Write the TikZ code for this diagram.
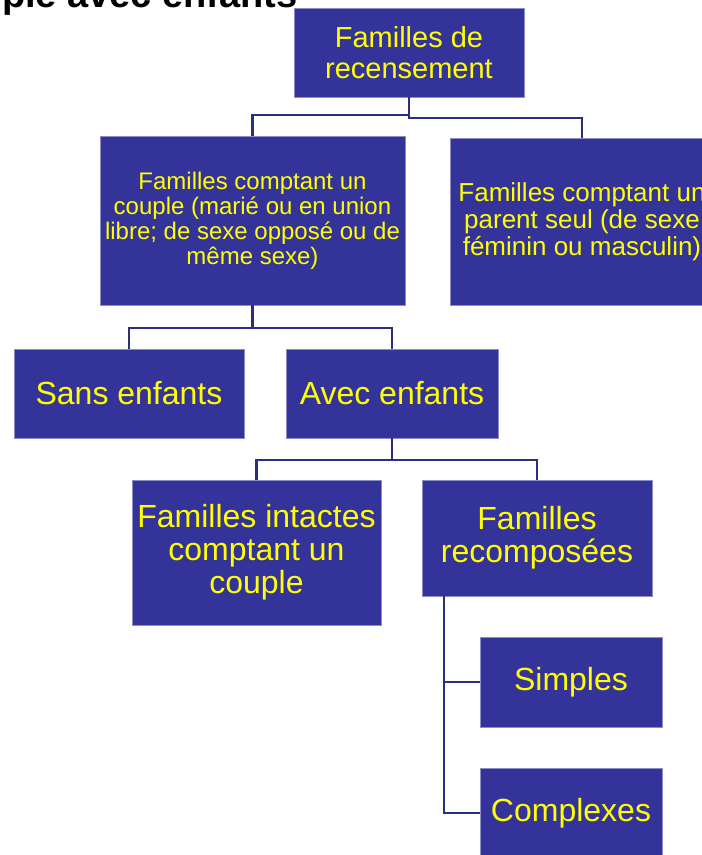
\documentclass[tikz,border=0pt]{standalone}
\usepackage{fontspec}
\setmainfont{Liberation Sans}
\definecolor{boxblue}{RGB}{51,51,153}
\definecolor{edgeblue}{RGB}{140,140,200}
\definecolor{linkblue}{RGB}{46,46,128}
\definecolor{txtyellow}{RGB}{255,255,0}
\begin{document}
\begin{tikzpicture}[x=1pt,y=-1pt,
  box/.style={rectangle, fill=boxblue, draw=edgeblue, line width=0.8pt, text=txtyellow, align=center, inner sep=2pt},
  conn/.style={draw=linkblue, line width=2.6pt},
  fA/.style={font=\fontsize{32}{33}\selectfont},
  fB/.style={font=\fontsize{29}{31}\selectfont},
  fC/.style={font=\fontsize{24}{25}\selectfont},
  fD/.style={font=\fontsize{26}{27}\selectfont}]
\useasboundingbox (0,0) rectangle (702,855);
\fill[white] (0,0) rectangle (702,855);
% title (cut off at the top edge)
\node[anchor=base east, inner sep=0pt, font=\bfseries\fontsize{38}{40}\selectfont, text=black] (title) at (298,7) {ple avec enfants};
% boxes
\node[box, fB, minimum width=230pt, minimum height=89pt] (top) at (409,52.5) {Familles de\\recensement};
\node[box, fC, minimum width=305pt, minimum height=169pt] (couple) at (252.5,220.5) {Familles comptant un\\couple (marié ou en union\\libre; de sexe opposé ou de\\même sexe)};
\node[box, fD, minimum width=264pt, minimum height=167pt] (parent) at (582,221.5) {Familles comptant un\\parent seul (de sexe\\féminin ou masculin)};
\node[box, fA, minimum width=230pt, minimum height=89pt] (sans) at (129,393.5) {Sans enfants};
\node[box, fA, minimum width=212pt, minimum height=89pt] (avec) at (392,393.5) {Avec enfants};
\node[box, fA, minimum width=249pt, minimum height=145pt] (intactes) at (256.5,552.5) {Familles intactes\\comptant un\\couple};
\node[box, fA, minimum width=230pt, minimum height=116pt] (recomp) at (537,538) {Familles\\recomposées};
\node[box, fA, minimum width=182pt, minimum height=90pt] (simples) at (571,682) {Simples};
\node[box, fA, minimum width=182pt, minimum height=90pt] (complexes) at (571,813) {Complexes};
% connectors
\draw[conn] (top.south) |- (couple.north |- 0,115) -- (couple.north);
\draw[conn] (top.south |- 0,115) -- (top.south |- 0,118) -| (parent.north);
\draw[conn] (couple.south) |- (sans.north |- 0,328) -- (sans.north);
\draw[conn] (couple.south |- 0,328) -| (avec.north);
\draw[conn] (avec.south) |- (intactes.north |- 0,460) -- (intactes.north);
\draw[conn] (avec.south |- 0,460) -| (recomp.north);
\coordinate (r0) at (444,596);
\draw[conn] (r0) |- (simples.west);
\draw[conn] (r0) |- (complexes.west);
\end{tikzpicture}
\end{document}
